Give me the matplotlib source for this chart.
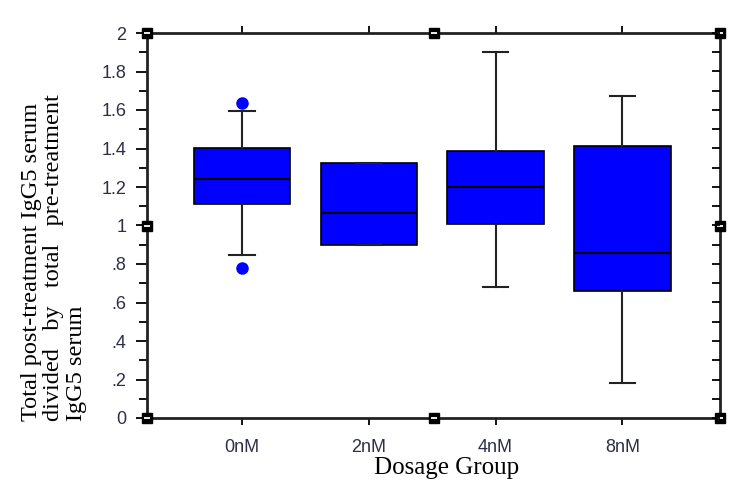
import matplotlib
matplotlib.use('Agg')
import matplotlib.pyplot as plt
from matplotlib.ticker import MultipleLocator, FuncFormatter

# data
groups = ['0nM', '2nM', '4nM', '8nM']
q1 = [1.11, 0.90, 1.01, 0.66]
med = [1.24, 1.065, 1.20, 0.855]
q3 = [1.405, 1.325, 1.385, 1.415]
whislo = [0.845, 0.90, 0.68, 0.18]
whishi = [1.595, 1.325, 1.90, 1.675]
fliers = [[1.635, 0.78], [], [], []]


def fmt(v, pos):
    s = ('%.1f' % v).rstrip('0').rstrip('.')
    if s.startswith('0.'):
        s = s[1:]
    return s


fig = plt.figure(figsize=(7.37, 4.83), dpi=100)
ax = fig.add_axes([147 / 737., 1 - 418 / 483., 573 / 737., 385 / 483.])

stats = []
for i, g in enumerate(groups):
    stats.append(dict(label=g, q1=q1[i], med=med[i], q3=q3[i],
                      whislo=whislo[i], whishi=whishi[i], fliers=fliers[i]))

ax.bxp(stats, positions=range(1, len(groups) + 1), widths=0.76, patch_artist=True,
       boxprops=dict(facecolor='#0000ff', edgecolor='black', linewidth=1.2),
       medianprops=dict(color='black', linewidth=1.5),
       whiskerprops=dict(color='#222222', linewidth=1.5),
       capprops=dict(color='#222222', linewidth=1.5),
       flierprops=dict(marker='o', markerfacecolor='#0000ff', markeredgecolor='#0000ff',
                       markersize=8),
       capwidths=0.2)

ax.set_xlim(0.25, 4.77)
ax.set_ylim(0, 2)

tick_color = '#2e2e48'
ax.yaxis.set_major_locator(MultipleLocator(0.2))
ax.yaxis.set_minor_locator(MultipleLocator(0.1))
ax.yaxis.set_major_formatter(FuncFormatter(fmt))
ax.tick_params(axis='y', which='major', direction='out', length=8, width=1.3,
               labelsize=13, labelcolor=tick_color, pad=7, left=True, right=False)
ax.tick_params(axis='y', which='minor', direction='out', length=6, width=1.3,
               left=True, right=False)
ax.tick_params(axis='x', direction='out', length=5, width=1.3, labelsize=13,
               labelcolor=tick_color, pad=10, top=True)
for lab in ax.get_xticklabels() + ax.get_yticklabels():
    lab.set_family('Liberation Sans')

# inward minor ticks on the right edge
ax2 = ax.twinx()
ax2.set_ylim(0, 2)
ax2.yaxis.set_major_locator(MultipleLocator(0.1))
ax2.tick_params(axis='y', direction='in', length=6, width=1.3, labelright=False)
ax2.spines[:].set_visible(False)

for sp in ax.spines.values():
    sp.set_linewidth(2)
    sp.set_color('#222222')

# little handles on the frame
hx = [0, 0.5, 1, 0, 0.5, 1, 0, 1]
hy = [1, 1, 1, 0, 0, 0, 0.5, 0.5]
ax.plot(hx, hy, 's', color='black', markersize=7, transform=ax.transAxes,
        clip_on=False, zorder=10)
ax.plot(hx, hy, '_', color='white', markersize=5, markeredgewidth=1.3,
        transform=ax.transAxes, clip_on=False, zorder=11)

fig.text(447 / 737., 1 - 468 / 483., 'Dosage Group', family='Liberation Serif',
         fontsize=18, ha='center', va='center')
fig.text(54 / 737., 1 - 421 / 483.,
         'Total post-treatment IgG5 serum\ndivided   by   total   pre-treatment\nIgG5 serum',
         family='Liberation Serif', fontsize=17.5, rotation=90, ha='center', va='bottom',
         multialignment='left', linespacing=1.12)

fig.savefig('out.png', dpi=100)
